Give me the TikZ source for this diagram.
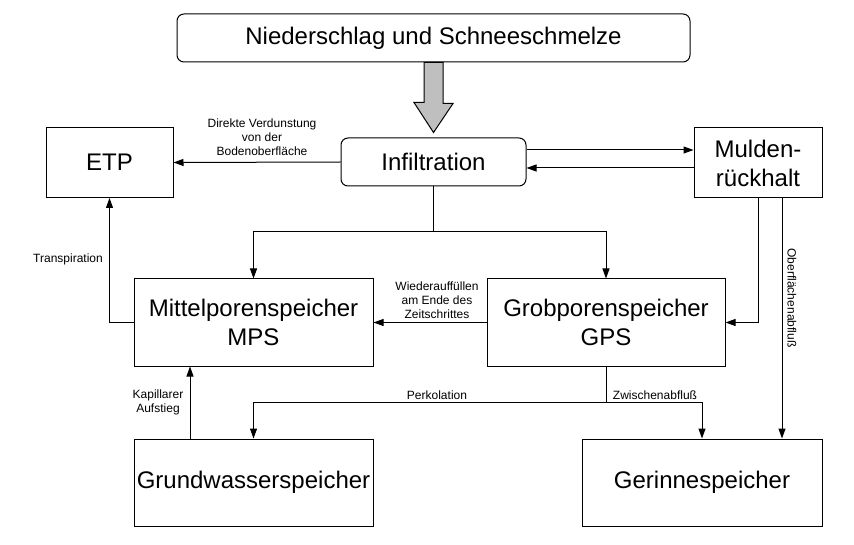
\documentclass[tikz,border=0pt]{standalone}
\usepackage{fontspec}
\setmainfont{Liberation Sans}
\usetikzlibrary{arrows.meta,calc}
\tikzset{
	kasten/.style={draw,line width=1pt,inner sep=0pt,align=center,font=\fontsize{24}{29}\selectfont},
	rund/.style={kasten,rounded corners=7pt},
	pfeil/.style={line width=1pt,-{Triangle[length=10pt,width=7pt]}},
	linie/.style={line width=1pt},
	klein/.style={font=\fontsize{12}{14}\selectfont,align=center,inner sep=1pt}
}

\begin{document}
\begin{tikzpicture}[x=1pt,y=-1pt]
	\useasboundingbox (0,0) rectangle (854,545);
	% Kaesten
	\node[rund,minimum width=513pt,minimum height=48pt] (regen) at (433.5,38) {Niederschlag und Schneeschmelze};
	\node[kasten,minimum width=127pt,minimum height=70pt] (etp) at (109.5,162.5) {ETP};
	\node[rund,minimum width=185pt,minimum height=48pt] (infil) at (433.5,162) {Infiltration};
	\node[kasten,minimum width=128pt,minimum height=70pt] (mulden) at (758,163) {Mulden-\\rückhalt};
	\node[kasten,minimum width=239pt,minimum height=87pt] (mps) at (253.5,322.5) {Mittelporenspeicher\\MPS};
	\node[kasten,minimum width=238pt,minimum height=87pt] (gps) at (606,322.5) {Grobporenspeicher\\GPS};
	\node[kasten,minimum width=239pt,minimum height=87pt] (gw) at (253.5,482.5) {Grundwasserspeicher};
	\node[kasten,minimum width=240pt,minimum height=87pt] (gerinne) at (702,482.5) {Gerinnespeicher};

	% Blockpfeil
	\draw[linie,fill=gray!50] ($(regen.south)+(-9.5,0)$) -- ++(19,0) -- ++(0,41) -- ++(10,0)
		-- ($(infil.north)+(0,-5)$) -- ++(-19.5,-30) -- ++(10,0) -- cycle;

	% Verbindungen
	\draw[pfeil] (infil.west) -- (etp.east);
	\draw[pfeil] ([yshift=12pt]infil.east) -- ([yshift=12pt]infil.east -| mulden.west);
	\draw[pfeil] ([yshift=-5pt]mulden.west) -- ([yshift=-5pt]mulden.west -| infil.east);
	\coordinate (verteil) at (433.5,232);
	\draw[linie] (infil.south) -- (verteil);
	\draw[pfeil] (verteil) -| (mps.north);
	\draw[pfeil] (verteil) -| (gps.north);
	\draw[pfeil] (mps.west) -| (etp.south);
	\draw[pfeil] (gps.west) -- (mps.east);
	\draw[pfeil] (mulden.south) |- (gps.east);
	\draw[pfeil] ([xshift=24pt]mulden.south) -- ([xshift=24pt]mulden.south |- gerinne.north);
	\draw[pfeil] ([xshift=-63.5pt]gw.north) -- ([xshift=-63.5pt]gw.north |- mps.south);
	\coordinate (teil) at (606,402);
	\draw[linie] (gps.south) -- (teil);
	\draw[pfeil] (teil) -| (gw.north);
	\draw[pfeil] (teil) -| (gerinne.north);

	% Beschriftungen
	\node[klein] (verdunst) at (262,137) {Direkte Verdunstung\\von der\\Bodenoberfläche};
	\node[klein] (transp) at (68,259) {Transpiration};
	\node[klein] (wieder) at (437,300) {Wiederauffüllen\\am Ende des\\Zeitschrittes};
	\node[klein] (kapill) at (158,402) {Kapillarer\\Aufstieg};
	\node[klein] (perk) at (437,395) {Perkolation};
	\node[klein] (zwischen) at (655,395) {Zwischenabfluß};
	\node[klein,rotate=-90] (oberfl) at (792,298) {Oberflächenabfluß};
\end{tikzpicture}
\end{document}
